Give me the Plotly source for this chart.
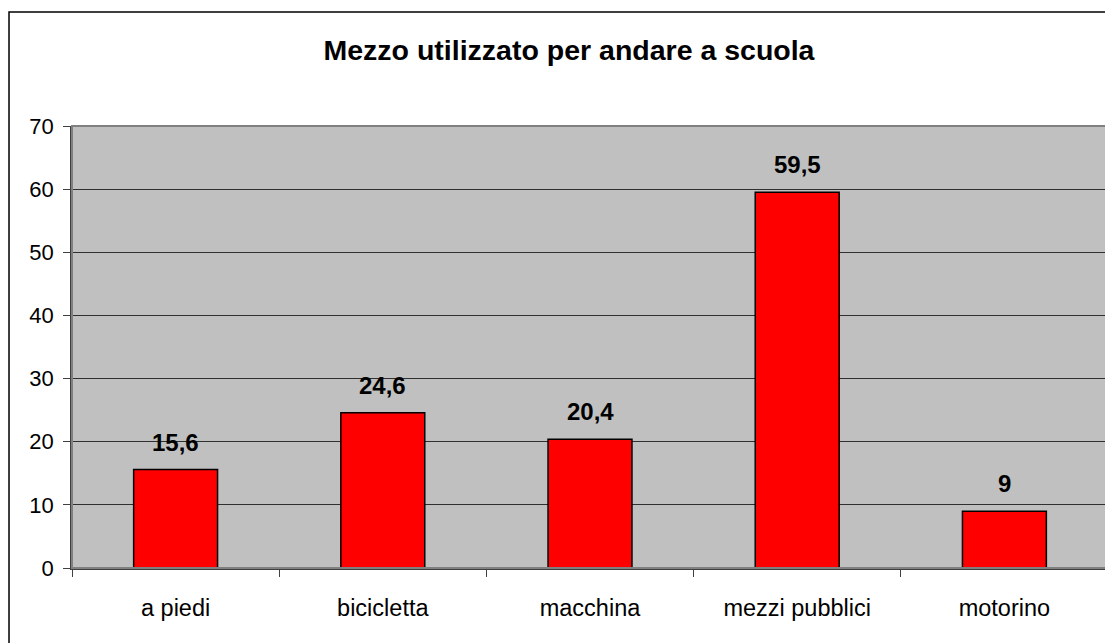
import plotly.graph_objects as go

categories = ["a piedi", "bicicletta", "macchina", "mezzi pubblici", "motorino"]
values = [15.6, 24.6, 20.4, 59.5, 9]
labels = ["15,6", "24,6", "20,4", "59,5", "9"]

FONT = "Liberation Sans, Arial, sans-serif"

fig = go.Figure(go.Bar(x=categories, y=values, width=0.405,
                       marker={"color": "#FF0000", "line": {"color": "#000000", "width": 1.5}},
                       hoverinfo="x+y"))

for cat, val, lab in zip(categories, values, labels):
    fig.add_annotation(x=cat, y=val, text=f"<b>{lab}</b>", showarrow=False, yanchor="bottom",
                       yshift=12, font={"size": 24, "color": "#000000", "family": FONT})

# page body adds 8px margin, so the figure is 8px smaller than the window
fig.update_layout(
    title={"text": "<b>Mezzo utilizzato per andare a scuola</b>", "x": 0.5077, "xanchor": "center",
           "y": 0.934, "yanchor": "middle", "font": {"size": 28.5, "color": "#000000", "family": FONT}},
    width=1105, height=635, paper_bgcolor="#FFFFFF", plot_bgcolor="#C0C0C0",
    margin={"l": 64, "r": 5, "t": 118, "b": 75}, showlegend=False,
    font={"family": FONT, "size": 23, "color": "#000000"},
    shapes=[{"type": "rect", "xref": "paper", "yref": "paper", "x0": -0.0608, "x1": 1.2, "y0": -0.5,
             "y1": 1.258, "line": {"color": "#000000", "width": 1.5}, "layer": "below"},
            {"type": "rect", "xref": "paper", "yref": "paper", "x0": 0, "x1": 1, "y0": 0, "y1": 1,
             "line": {"color": "#808080", "width": 2}, "layer": "above"}],
)
fig.update_xaxes(type="category", tickson="boundaries", ticks="outside", ticklen=7, tickcolor="#404040",
                 showline=True, linecolor="#404040", linewidth=1.5, showgrid=False,
                 ticklabelstandoff=18, tickfont={"size": 23.5}, fixedrange=True)
fig.update_yaxes(range=[0, 70], dtick=10, ticks="outside", ticklen=7, tickcolor="#404040",
                 showline=True, linecolor="#404040", linewidth=1.5, gridcolor="#303030", gridwidth=1,
                 zeroline=False, ticklabelstandoff=5, tickfont={"size": 22}, fixedrange=True)

fig.write_html("out.html")
